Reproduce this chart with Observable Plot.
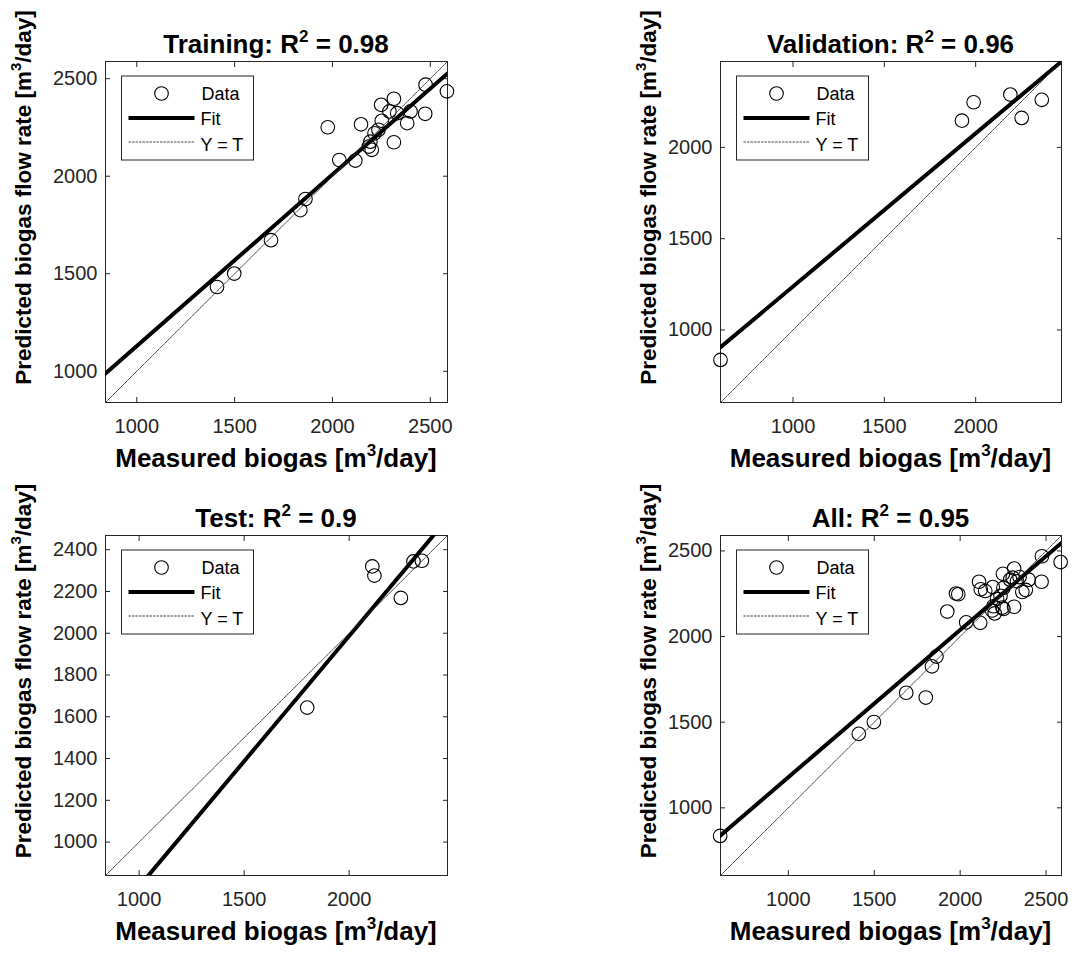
<!DOCTYPE html>
<html><head><meta charset="utf-8">
<script src="https://cdn.jsdelivr.net/npm/d3@7"></script>
<script src="https://cdn.jsdelivr.net/npm/@observablehq/plot@0.6"></script>
<style>
body{margin:0;background:#fff;}
#wrap{position:relative;width:1072px;height:954px;overflow:hidden;font-family:"Liberation Sans",Arial,sans-serif;background:#fff;}
.panel{position:absolute;}
.panel svg{max-width:none !important;}
#overlay{position:absolute;left:0;top:0;pointer-events:none;}
</style></head><body><div id="wrap"></div>
<script>
// ---- data ----
const panelNames = ["Training", "Validation", "Test", "All"];
const r2Values = ["0.98", "0.96", "0.9", "0.95"];

const trainT = [1976, 2146, 2249, 2314, 2291, 2331, 2399, 2474, 2382, 2252, 2215, 2235, 2194, 2186, 2201, 2314, 2035, 2117, 2476, 2585, 1862, 1836, 1686, 1498, 1410];
const trainY = [2251, 2266, 2366, 2397, 2332, 2323, 2332, 2320, 2272, 2284, 2220, 2238, 2177, 2152, 2135, 2174, 2083, 2080, 2469, 2435, 1883, 1826, 1672, 1501, 1432];
const validT = [603, 1925, 1989, 2190, 2252, 2362];
const validY = [836, 2146, 2247, 2289, 2161, 2260];
const testT = [2110, 2120, 2246, 2306, 2346, 1800];
const testY = [2320, 2276, 2169, 2344, 2347, 1644];

const fitSlope = [0.88, 0.838, 1.2, 0.86];
const fitIntercept = [249, 400, -413, 319];

const axisDomains = [[840, 2588], [603, 2470], [840, 2468], [605, 2590]];
const xTicks = [[1000, 1500, 2000, 2500], [1000, 1500, 2000], [1000, 1500, 2000], [1000, 1500, 2000, 2500]];
const yTicks = [[1000, 1500, 2000, 2500], [1000, 1500, 2000], [1000, 1200, 1400, 1600, 1800, 2000, 2200, 2400], [1000, 1500, 2000, 2500]];

const legendLabels = ["Data", "Fit", "Y = T"];
const xLabelParts = ["Measured biogas [m", "3", "/day]"];
const yLabelParts = ["Predicted biogas flow rate [m", "3", "/day]"];

// ---- layout ----
const frames = [
  {left: 105, top: 61, w: 342, h: 341},
  {left: 720, top: 61, w: 341, h: 341},
  {left: 105, top: 535, w: 342, h: 340},
  {left: 720, top: 535, w: 341, h: 340}
];
const FONT = "Liberation Sans, Arial, sans-serif";
const INK = "#262626";

const toPts = (T, Y) => T.map((t, i) => ({t, y: Y[i]}));
const panelData = [
  toPts(trainT, trainY),
  toPts(validT, validY),
  toPts(testT, testY),
  [...toPts(trainT, trainY), ...toPts(validT, validY), ...toPts(testT, testY)]
];

const wrap = document.getElementById("wrap");
const ml = 70, mr = 15, mt = 15, mb = 45;

frames.forEach((f, i) => {
  const dom = axisDomains[i];
  const fitPts = dom.map(t => ({t, y: fitSlope[i] * t + fitIntercept[i]}));
  const diag = dom.map(t => ({t, y: t}));
  const chart = Plot.plot({
    width: f.w + ml + mr,
    height: f.h + mt + mb,
    marginLeft: ml, marginRight: mr, marginTop: mt, marginBottom: mb,
    style: {fontFamily: FONT, fontSize: "20px", color: INK, background: "transparent", overflow: "visible"},
    x: {domain: dom, label: null},
    y: {domain: dom, label: null},
    marks: [
      Plot.axisX({anchor: "bottom", ticks: xTicks[i], tickSize: -5, tickPadding: 21.5, tickFormat: d => String(d), label: null}),
      Plot.axisX({anchor: "top", ticks: xTicks[i], tickSize: -5, tickFormat: () => "", label: null}),
      Plot.axisY({anchor: "left", ticks: yTicks[i], tickSize: -5, tickPadding: 13, tickFormat: d => String(d), label: null}),
      Plot.axisY({anchor: "right", ticks: yTicks[i], tickSize: -5, tickFormat: () => "", label: null}),
      Plot.frame({stroke: INK, strokeWidth: 1}),
      Plot.dot(panelData[i], {x: "t", y: "y", r: 6.8, stroke: "black", fill: "none", strokeWidth: 1.1}),
      Plot.line(fitPts, {x: "t", y: "y", stroke: "black", strokeWidth: 4, clip: true}),
      Plot.line(diag, {x: "t", y: "y", stroke: "#333", strokeWidth: 0.9, strokeDasharray: "2.5,1", clip: true})
    ]
  });
  const div = document.createElement("div");
  div.className = "panel";
  div.style.left = (f.left - ml) + "px";
  div.style.top = (f.top - mt) + "px";
  div.appendChild(chart);
  wrap.appendChild(div);
});

// ---- overlay texts & legends ----
const svg = d3.select(wrap).append("svg")
  .attr("id", "overlay").attr("width", 1072).attr("height", 954)
  .style("font-family", FONT);

function supText(g, parts, size, supSize, rise) {
  g.append("tspan").text(parts[0]);
  g.append("tspan").attr("font-size", supSize).attr("dy", -rise).text(parts[1]);
  g.append("tspan").attr("font-size", size).attr("dy", rise).text(parts[2]);
}

frames.forEach((f, i) => {
  const cx = f.left + f.w / 2;
  const cy = f.top + f.h / 2;
  // title
  const t = svg.append("text").attr("x", cx).attr("y", f.top - 8)
    .attr("text-anchor", "middle").attr("font-weight", "bold").attr("font-size", 26).attr("fill", "#000");
  supText(t, [panelNames[i] + ": R", "2", " = " + r2Values[i]], 26, 17, 11);
  // x label
  const xl = svg.append("text").attr("x", cx).attr("y", f.top + f.h + 65)
    .attr("text-anchor", "middle").attr("font-weight", "bold").attr("font-size", 26).attr("fill", "#000");
  supText(xl, xLabelParts, 26, 17, 11);
  // y label
  const ylx = f.left - (i % 2 === 0 ? 74 : 64);
  const yl = svg.append("text").attr("transform", `translate(${ylx},${cy - 34}) rotate(-90)`)
    .attr("text-anchor", "middle").attr("font-weight", "bold").attr("font-size", 22.5).attr("fill", "#000");
  supText(yl, yLabelParts, 22.5, 15, 10);
  // legend
  const lg = svg.append("g").attr("transform", `translate(${f.left + 16.5},${f.top + 15})`);
  lg.append("rect").attr("x", 0).attr("y", 0).attr("width", 132).attr("height", 84)
    .attr("fill", "#fff").attr("stroke", INK).attr("stroke-width", 1);
  lg.append("circle").attr("cx", 40).attr("cy", 17.5).attr("r", 6.8).attr("fill", "none").attr("stroke", "#000").attr("stroke-width", 1.1);
  lg.append("line").attr("x1", 7).attr("x2", 73).attr("y1", 42).attr("y2", 42).attr("stroke", "#000").attr("stroke-width", 4);
  lg.append("line").attr("x1", 7).attr("x2", 73).attr("y1", 66).attr("y2", 66).attr("stroke", "#333").attr("stroke-width", 0.9).attr("stroke-dasharray", "2.5,1");
  const ty = [23.5, 49, 75];
  legendLabels.forEach((lab, k) => {
    lg.append("text").attr("x", k === 0 ? 80 : 79).attr("y", ty[k]).attr("font-size", 18).attr("fill", "#000").text(lab);
  });
});
</script></body></html>
